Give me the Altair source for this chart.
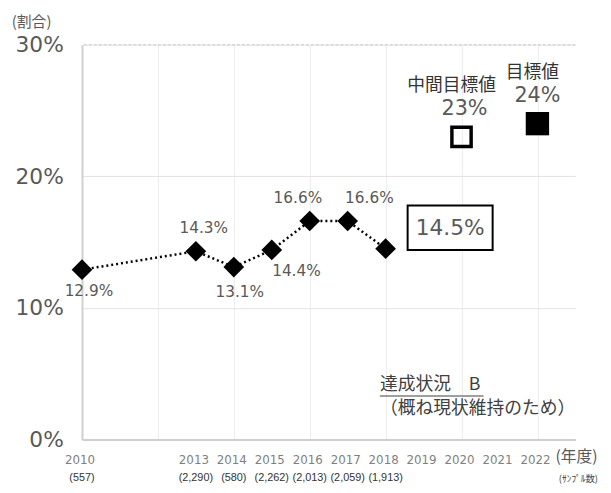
import altair as alt
import pandas as pd

# ---- data ----
years = [2010, 2013, 2014, 2015, 2016, 2017, 2018]
rates = [0.129, 0.143, 0.131, 0.144, 0.166, 0.166, 0.145]
labels = ["12.9%", "14.3%", "13.1%", "14.4%", "16.6%", "16.6%", ""]
axis_years = [2010, 2013, 2014, 2015, 2016, 2017, 2018, 2019, 2020, 2021, 2022]
sample_years = [2010, 2013, 2014, 2015, 2016, 2017, 2018]
samples = ["(557)", "(2,290)", "(580)", "(2,262)", "(2,013)", "(2,059)", "(1,913)"]
mid_target_year, mid_target = 2020, 0.23
final_target_year, final_target = 2022, 0.24
latest_label = "14.5%"

# label offsets (px) for the data labels
label_dx = [7, 8, 6, 25, -12, 22, 0]
label_dy = [22, -24, 25, 21, -23, -23, 0]

GRAY = "#595959"
NUM_FONT = "DejaVu Sans"
JP_FONT = "Noto Sans CJK JP"

df = pd.DataFrame({"year": years, "rate": rates, "label": labels})

x_scale = alt.Scale(domain=[2010, 2023], nice=False, zero=False)
y_scale = alt.Scale(domain=[0, 0.3], nice=False)

base = alt.Chart(df)

line = base.mark_line(color="black", strokeDash=[2, 3], strokeWidth=2.5).encode(
    x=alt.X("year:Q", scale=x_scale,
            axis=alt.Axis(values=list(range(2010, 2024)), labels=False, ticks=False,
                          title=None, grid=True, gridColor="#ececec",
                          domainColor="#cfcfcf", domainWidth=2)),
    y=alt.Y("rate:Q", scale=y_scale,
            axis=alt.Axis(values=[0, 0.1, 0.2, 0.3], format=".0%", ticks=False,
                          title=None, labelFontSize=22, labelColor=GRAY,
                          labelFont=NUM_FONT, labelPadding=19, grid=True,
                          gridColor="#e3e3e3", domainColor="#cfcfcf", domainWidth=2)),
)

pts = base.mark_point(shape="diamond", filled=True, color="black", size=440, opacity=1).encode(
    x=alt.X("year:Q", scale=x_scale), y=alt.Y("rate:Q", scale=y_scale))

# top dashed border
top = alt.Chart(pd.DataFrame({"v": [0.3]})).mark_rule(color="#d8d8d8", strokeDash=[3, 2], strokeWidth=1.5).encode(
    y=alt.Y("v:Q", scale=y_scale))

layers = [top, line, pts]

# data labels
for i in range(len(years)):
    if not labels[i]:
        continue
    layers.append(
        alt.Chart(pd.DataFrame({"year": [years[i]], "rate": [rates[i]], "t": [labels[i]]}))
        .mark_text(font=NUM_FONT, fontSize=15.5, color=GRAY, dx=label_dx[i], dy=label_dy[i])
        .encode(x=alt.X("year:Q", scale=x_scale), y=alt.Y("rate:Q", scale=y_scale), text="t:N")
    )

# box around latest value
box_df = pd.DataFrame({"x": [2018.58], "x2": [2020.82], "y": [0.144], "y2": [0.1778]})
box = alt.Chart(box_df).mark_rect(fill="white", stroke="black", strokeWidth=2).encode(
    x=alt.X("x:Q", scale=x_scale), x2="x2:Q", y=alt.Y("y:Q", scale=y_scale), y2="y2:Q")
box_text = alt.Chart(pd.DataFrame({"x": [2019.70], "y": [0.1609], "t": [latest_label]})).mark_text(
    font=NUM_FONT, fontSize=22, color=GRAY).encode(
    x=alt.X("x:Q", scale=x_scale), y=alt.Y("y:Q", scale=y_scale), text="t:N")
layers += [box, box_text]

# targets
mid = alt.Chart(pd.DataFrame({"year": [mid_target_year], "rate": [mid_target]})).mark_point(
    shape="square", filled=False, color="black", strokeWidth=3.5, size=380, opacity=1).encode(
    x=alt.X("year:Q", scale=x_scale), y=alt.Y("rate:Q", scale=y_scale))
fin = alt.Chart(pd.DataFrame({"year": [final_target_year], "rate": [final_target]})).mark_point(
    shape="square", filled=True, color="black", size=560, opacity=1).encode(
    x=alt.X("year:Q", scale=x_scale), y=alt.Y("rate:Q", scale=y_scale))
layers += [mid, fin]

def txt(year, rate, t, dx=0, dy=0, size=15, font=NUM_FONT, color=GRAY, align="center"):
    return alt.Chart(pd.DataFrame({"x": [year], "y": [rate], "t": [t]})).mark_text(
        font=font, fontSize=size, color=color, dx=dx, dy=dy, align=align).encode(
        x=alt.X("x:Q", scale=x_scale), y=alt.Y("y:Q", scale=y_scale), text="t:N")

layers += [
    txt(mid_target_year, mid_target, "23%", dx=3, dy=-28, size=21),
    txt(mid_target_year, mid_target, "中間目標値", dx=-10, dy=-51, size=18, font=JP_FONT, color="#333333"),
    txt(final_target_year, final_target, "24%", dx=0, dy=-28, size=21),
    txt(final_target_year, final_target, "目標値", dx=-5, dy=-51, size=18, font=JP_FONT, color="#333333"),
]

# status annotation
layers += [
    txt(2017.85, 0.0413, "達成状況　B", size=18, font=JP_FONT, color="#404040", align="left"),
    txt(2017.85, 0.0233, "（概ね現状維持のため）", size=18, font=JP_FONT, color="#404040", align="left"),
]
ul = alt.Chart(pd.DataFrame({"x": [2017.85], "x2": [2020.58], "y": [0.0330]})).mark_rule(
    color="#404040", strokeWidth=1.2).encode(
    x=alt.X("x:Q", scale=x_scale), x2="x2:Q", y=alt.Y("y:Q", scale=y_scale))
layers.append(ul)

# x-axis labels (years and sample sizes)
yl = alt.Chart(pd.DataFrame({"year": axis_years})).mark_text(
    font=NUM_FONT, fontSize=12, color="#7f7f7f", dx=-2).encode(
    x=alt.X("year:Q", scale=x_scale), y=alt.value(421), text=alt.Text("year:Q", format="d"))
sl = alt.Chart(pd.DataFrame({"year": sample_years, "s": samples})).mark_text(
    font="Liberation Sans", fontSize=11, color="#333333").encode(
    x=alt.X("year:Q", scale=x_scale), y=alt.value(439), text="s:N")
layers += [yl, sl]

layers += [
    txt(2023.03, -0.0135, "(年度)", size=16, font=JP_FONT, color=GRAY),
    txt(2023.08, -0.0305, "(ｻﾝﾌﾟﾙ数)", size=9.5, font=JP_FONT, color="#404040"),
    txt(2008.15, 0.317, "(割合)", size=15, font=JP_FONT, color=GRAY, align="left"),
]

chart = alt.layer(*layers).properties(
    width=500, height=400,
    autosize=alt.AutoSizeParams(type="none"),
    padding={"left": 75, "top": 34, "right": 28, "bottom": 43},
).configure_view(stroke=None).configure_axis(labelFont=NUM_FONT)

chart.save("out.html", embed_options={"renderer": "svg", "actions": False})
